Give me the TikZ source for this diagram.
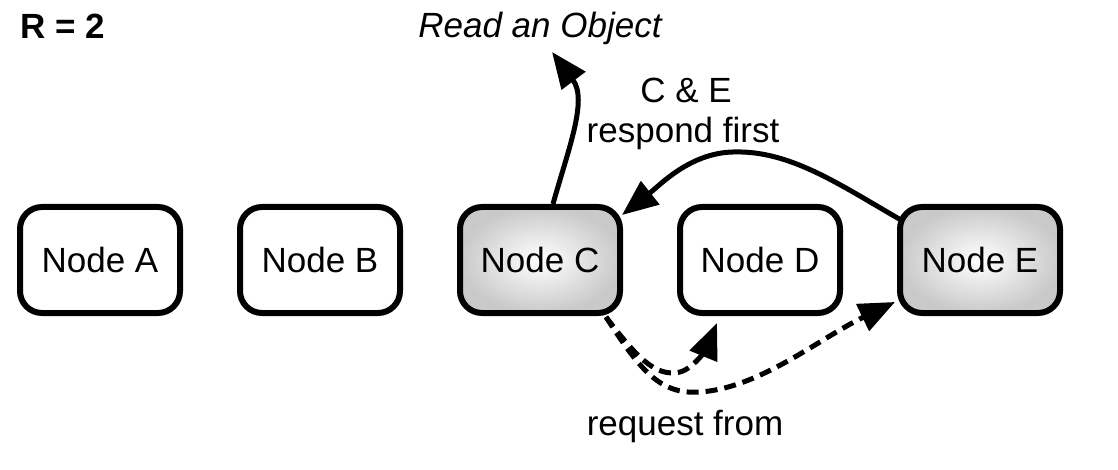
\documentclass[tikz,border=0pt]{standalone}
\usepackage{fontspec}
\setmainfont{Liberation Sans}
\usetikzlibrary{arrows.meta}
\begin{document}
\begin{tikzpicture}[x=1pt,y=-1pt,
  every node/.style={font=\fontsize{35}{40}\selectfont},
  server/.style={draw, line width=6pt, rounded corners=22pt,
    minimum width=160pt, minimum height=106pt, inner sep=0pt},
  replied/.style={server, inner color=white, outer color=black!21},
  link/.style={line width=5pt, -{Triangle[length=36pt,width=29pt]}},
  request/.style={link, dash pattern=on 12pt off 7pt},
  caption/.style={inner sep=0pt, anchor=base}]
\useasboundingbox (0,0) rectangle (1118,470);

% the five storage nodes
\node[server]  (A) at (100,260) {Node A};
\node[server]  (B) at (320,260) {Node B};
\node[replied] (C) at (540,260) {Node C};
\node[server]  (D) at (760,260) {Node D};
\node[replied] (E) at (980,260) {Node E};

% captions
\node[caption, anchor=base west, font=\fontsize{35}{40}\selectfont\bfseries] (R) at (20,39) {R = 2};
\node[caption, font=\fontsize{35}{40}\selectfont\itshape] (read) at (540,38) {Read an Object};
\node[caption] (ce)   at (686,103) {C \& E};
\node[caption] (resp) at (683,143) {respond first};
\node[caption] (req)  at (685,435) {request from};

% connector end points
\coordinate (readtip) at (552,52);
\coordinate (c-up)  at ([xshift=13pt]C.north);
\coordinate (c-in)  at ([shift={(82,-45)}]C.center);
\coordinate (c-out) at ([shift={(66,57)}]C.center);
\coordinate (e-out) at ([shift={(-79,-40)}]E.center);
\coordinate (d-in)  at ([shift={(-43,63)}]D.center);
\coordinate (e-in)  at ([shift={(-85,42)}]E.center);

% read result
\draw[link] (c-up) .. controls (568,150) and (588,100) .. (readtip);
% E answers C
\draw[link] (e-out) .. controls (840,185) and (790,150) .. (733,152)
                    .. controls (690,153) and (660,185) .. (c-in);
% requests sent from C
\draw[request] (c-out) .. controls (635,355) and (655,378) .. (680,372)
                       .. controls (695,368) and (708,345) .. (d-in);
\draw[request] (c-out) .. controls (640,370) and (660,395) .. (700,392)
                       .. controls (760,388) and (820,338) .. (e-in);
\end{tikzpicture}
\end{document}
